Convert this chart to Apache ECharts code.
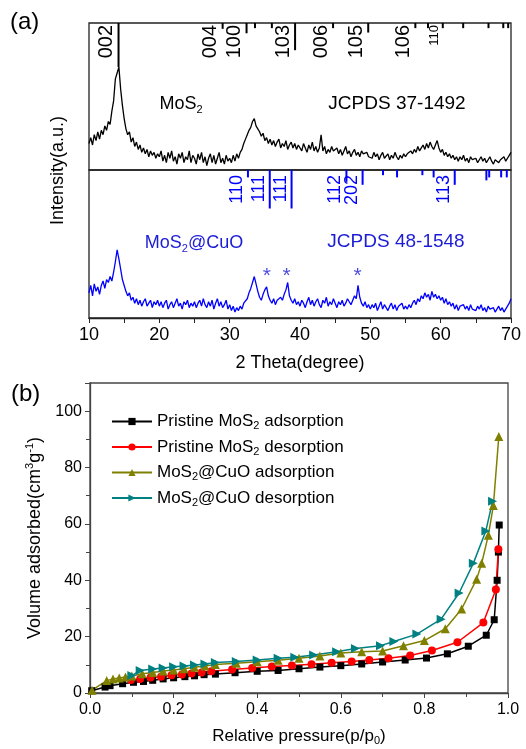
<!DOCTYPE html>
<html><head><meta charset="utf-8">
<script src="https://cdn.jsdelivr.net/npm/echarts@6/dist/echarts.min.js"></script>
<style>html,body{margin:0;padding:0;background:#fff}#c{width:526px;height:749px}</style>
</head><body><div id="c"></div>
<script>
// ---------------- DATA ----------------
// Panel (a): XRD, 2theta sampled from 10 to 70 deg every 0.25 deg
const twoThetaStart = 10;
const twoThetaStep = 0.25;
const mosIntensity = [
 18,22,17,24,20,26,21,27,24,30,27,33,31,40,47,62,66,70,55,44,
 35,28,24,26,19,22,16,19,14,17,12,15,11,14,9,13,10,12,8,11,
 9,13,6,10,5,12,8,13,6,9,4,11,8,12,5,9,7,13,5,10,
 8,4,11,7,12,5,9,3,8,11,5,10,4,8,12,5,8,4,10,6,
 8,5,10,6,11,8,12,14,18,21,24,27,29,33,35,30,28,26,23,25,
 20,22,18,21,17,20,16,19,21,15,18,16,20,14,17,19,15,18,14,17,
 16,13,18,15,12,17,14,19,13,16,12,15,24,13,16,11,14,12,16,13,
 12,15,11,14,10,13,16,11,13,9,12,14,10,12,9,13,11,10,12,9,
 10,8,12,9,11,7,10,12,8,9,11,7,10,8,12,9,7,10,8,11,
 9,11,10,13,11,14,12,16,13,15,17,14,18,15,19,16,14,17,20,15,
 12,14,10,12,9,11,8,10,7,9,6,9,7,10,6,8,5,9,7,6,
 8,5,7,9,6,8,5,7,9,6,4,7,8,5,7,6,9,6,8,10,
 12
];
const cuoIntensity = [
 17,22,15,23,18,21,16,22,25,20,26,24,28,25,31,38,46,40,33,26,
 22,18,15,17,12,14,10,13,9,12,8,11,13,8,10,12,7,11,9,12,
 8,11,7,10,12,6,9,11,7,10,13,8,10,6,11,9,12,7,10,8,
 11,7,10,12,8,13,9,7,11,8,12,6,10,13,8,11,7,9,12,6,
 9,5,8,4,7,5,8,6,10,9,13,17,20,24,28,23,18,14,12,16,
 19,21,15,12,10,13,9,12,11,14,12,16,19,24,15,12,10,13,9,11,
 8,12,10,7,11,14,9,12,8,11,13,9,7,12,10,14,8,11,9,13,
 10,7,11,9,12,8,10,13,11,9,12,15,13,22,14,10,8,11,7,9,
 6,9,7,10,5,8,11,6,9,7,5,8,10,6,9,5,8,7,10,6,
 8,6,9,7,10,12,9,13,11,15,13,17,14,16,12,18,14,16,13,15,
 12,14,10,13,9,11,8,10,6,9,5,8,7,9,6,8,5,9,6,7,
 5,8,6,9,5,7,4,8,6,5,7,4,6,8,5,7,4,6,8,10,
 13
];
// Reference patterns (position in 2theta, relative line length, hkl label)
const mosRefPos = [14.2, 29.0, 32.4, 33.6, 36.0, 39.3, 44.7, 49.7, 56.4, 58.2, 60.3, 63.2, 66.8, 68.9, 69.6];
const mosRefLen = [30, 4, 7, 3.5, 3.5, 18.5, 3.5, 6.5, 3.5, 3.5, 3.5, 3.5, 3.5, 3.5, 3.5];
const mosRefLbl = ['002', '004', '100', '', '', '103', '006', '105', '106', '', '110', '', '', '', ''];
const cuoRefPos = [32.6, 35.7, 38.8, 46.6, 48.9, 51.8, 53.8, 57.4, 59.0, 62.0, 66.5, 66.9, 68.6, 69.4];
const cuoRefLen = [5, 26, 26, 8, 10, 3.5, 5, 3.5, 5, 10, 7, 5, 5, 5];
const cuoRefLbl = ['110', '111', '111', '112', '202', '', '', '', '', '113', '', '', '', ''];
// CuO peaks marked with asterisks
const cuoStarPos = [35.3, 38.1, 48.2];
const cuoStarVal = [28, 28, 28];
const xrdTicks = [10, 20, 30, 40, 50, 60, 70];

// Panel (b): N2 isotherms
const pmAdsP = [0.004,0.036,0.048,0.078,0.104,0.128,0.15,0.175,0.2,0.227,0.25,0.273,0.3,0.347,0.4,0.45,0.5,0.55,0.6,0.65,0.7,0.754,0.805,0.855,0.905,0.948,0.967,0.974,0.977,0.979];
const pmAdsV = [0.8,2.1,2.6,3.3,3.8,4.1,4.5,5.0,5.4,5.8,6.1,6.5,6.7,7.2,7.7,8.0,8.6,9.2,9.7,10.3,11.0,11.7,12.4,13.9,16.6,20.5,26.0,40.0,50.0,59.6];
const pmDesP = [0.098,0.12,0.145,0.17,0.195,0.22,0.243,0.267,0.29,0.34,0.388,0.435,0.483,0.53,0.578,0.626,0.668,0.714,0.766,0.818,0.879,0.941,0.971,0.977];
const pmDesV = [4.6,5.0,5.5,5.8,6.3,6.6,6.9,7.3,7.7,8.3,8.9,9.4,9.8,10.2,10.7,11.2,11.7,12.3,13.3,15.1,18.0,25.0,36.7,51.0];
const mcAdsP = [0.005,0.04,0.055,0.07,0.085,0.1,0.125,0.15,0.175,0.2,0.225,0.25,0.275,0.3,0.35,0.4,0.45,0.5,0.55,0.6,0.65,0.7,0.75,0.8,0.85,0.889,0.925,0.937,0.953,0.965,0.978];
const mcAdsV = [1.0,4.4,5.0,5.3,5.7,6.0,6.8,7.3,7.8,8.2,8.6,9.1,9.6,10.1,10.6,11.1,11.6,12.3,13.1,14.2,14.6,14.9,16.8,18.6,22.8,29.8,40.4,46.0,56.0,66.5,91.0];
const mcDesP = [0.1,0.12,0.15,0.175,0.2,0.225,0.25,0.275,0.3,0.35,0.4,0.45,0.49,0.535,0.59,0.635,0.695,0.727,0.782,0.84,0.883,0.917,0.947,0.963];
const mcDesV = [6.2,8.0,8.5,8.9,9.3,9.6,9.9,10.3,10.8,11.2,11.7,12.3,12.7,13.5,14.6,15.8,16.8,18.3,20.9,26.2,35.5,46.0,57.5,68.0];

const seriesNames = ['Pristine MoS2 adsorption', 'Pristine MoS2 desorption', 'MoS2@CuO adsorption', 'MoS2@CuO desorption'];

// ---------------- CHART ----------------
const FONT = 'Liberation Sans, Arial, Helvetica, sans-serif';
const BLUE = '#0000ff';
const BLUE_TXT = '#1c1cd6';
const chart = echarts.init(document.getElementById('c'), null, {renderer: 'canvas'});

function xrdPairs(arr) { return arr.map((v, i) => [twoThetaStart + i * twoThetaStep, v]); }
function zip(a, b) { return a.map((v, i) => [v, b[i]]); }

function refSeries(gi, pos, len, lbl, color, fs, smallIdx, topGap) {
  return {
    type: 'custom', xAxisIndex: gi, yAxisIndex: gi, silent: true, z: 5,
    data: pos.map((p, i) => [p, len[i]]),
    renderItem: function (params, api) {
      const top = api.coord([api.value(0), 100]);
      const bot = api.coord([api.value(0), 100 - api.value(1)]);
      const kids = [{type: 'line', shape: {x1: top[0], y1: top[1], x2: bot[0], y2: bot[1]},
        style: {stroke: color, lineWidth: 2}}];
      const t = lbl[params.dataIndex];
      if (t) {
        kids.push({type: 'text', x: top[0] - 2, y: top[1] + topGap, rotation: Math.PI / 2,
          style: {text: t, fill: color, fontSize: params.dataIndex === smallIdx ? 13 : fs,
            fontFamily: FONT, align: 'right', verticalAlign: 'bottom'}});
      }
      return {type: 'group', children: kids};
    }
  };
}

const subRich = {
  n: {fontSize: 17, fontFamily: FONT, color: '#000', lineHeight: 20},
  s: {fontSize: 11, fontFamily: FONT, color: '#000', lineHeight: 10, verticalAlign: 'bottom'}
};
const legendFmt = {
  'Pristine MoS2 adsorption': '{n|Pristine MoS}{s|2}{n| adsorption}',
  'Pristine MoS2 desorption': '{n|Pristine MoS}{s|2}{n| desorption}',
  'MoS2@CuO adsorption': '{n|MoS}{s|2}{n|@CuO adsorption}',
  'MoS2@CuO desorption': '{n|MoS}{s|2}{n|@CuO desorption}'
};
function gRich(col) {
  return {n: {fontSize: 18, fontFamily: FONT, fill: col, lineHeight: 22},
          s: {fontSize: 11, fontFamily: FONT, fill: col, lineHeight: 10, verticalAlign: 'bottom'}};
}

const option = {
  animation: false,
  backgroundColor: '#fff',
  textStyle: {fontFamily: FONT},
  grid: [
    {left: 89, right: 15, top: 23, height: 147, show: true, borderColor: '#222', borderWidth: 1.3, backgroundColor: 'transparent'},
    {left: 89, right: 15, top: 170, height: 148, show: true, borderColor: '#222', borderWidth: 1.3, backgroundColor: 'transparent'},
    {left: 90, right: 18, top: 383, bottom: 56, show: true, borderColor: '#444', borderWidth: 1.3, backgroundColor: 'transparent'},
    {left: 89, right: 15, top: 23, bottom: 431}
  ],
  xAxis: [
    {gridIndex: 0, type: 'value', min: 10, max: 70, show: false},
    {gridIndex: 1, type: 'value', min: 10, max: 70, interval: 10,
      axisLine: {lineStyle: {color: '#222', width: 1.3}},
      axisTick: {inside: false, length: 5, lineStyle: {color: '#222'}},
      minorTick: {show: true, splitNumber: 2, length: 5, lineStyle: {color: '#222'}},
      splitLine: {show: false},
      axisLabel: {fontSize: 18, color: '#000', margin: 8, formatter: v => xrdTicks.includes(v) ? String(v) : ''},
      name: '2 Theta(degree)', nameLocation: 'middle', nameGap: 36,
      nameTextStyle: {fontSize: 18, color: '#000'}},
    {gridIndex: 2, type: 'value', min: 0, max: 1.0, interval: 0.2,
      axisLine: {lineStyle: {color: '#444', width: 1.3}},
      axisTick: {inside: false, length: 5, lineStyle: {color: '#444'}},
      minorTick: {show: true, splitNumber: 2, length: 4, lineStyle: {color: '#444'}},
      splitLine: {show: false},
      axisLabel: {fontSize: 16, color: '#000', margin: 9, formatter: v => v.toFixed(1)},
      name: '{n|Relative pressure(p/p}{s|0}{n|)}', nameLocation: 'middle', nameGap: 33,
      nameTextStyle: {rich: subRich}},
    {gridIndex: 3, type: 'value', min: 0, max: 1, show: false}
  ],
  yAxis: [
    {gridIndex: 0, type: 'value', min: 0, max: 100, show: false},
    {gridIndex: 1, type: 'value', min: 0, max: 100, show: false},
    {gridIndex: 2, type: 'value', min: 0, max: 110, interval: 20,
      axisLine: {show: true, lineStyle: {color: '#444', width: 1.3}},
      axisTick: {show: true, inside: false, length: 5, lineStyle: {color: '#444'}},
      minorTick: {show: true, splitNumber: 2, length: 4, lineStyle: {color: '#444'}},
      splitLine: {show: false},
      axisLabel: {fontSize: 16, color: '#000', margin: 8, showMaxLabel: false},
      name: '{n|Volume adsorbed(cm}{p|3}{n|g}{p|-1}{n|)}', nameLocation: 'middle', nameGap: 36,
      nameTextStyle: {rich: {
        n: {fontSize: 18, fontFamily: FONT, color: '#000', lineHeight: 22},
        p: {fontSize: 11, fontFamily: FONT, color: '#000', lineHeight: 12, verticalAlign: 'top'}
      }}},
    {gridIndex: 3, type: 'value', min: 0, max: 1,
      axisLine: {show: false}, axisTick: {show: false}, axisLabel: {show: false}, splitLine: {show: false},
      name: 'Intensity(a.u.)', nameLocation: 'middle', nameGap: 22,
      nameTextStyle: {fontSize: 18, color: '#000'}}
  ],
  legend: {
    orient: 'vertical', left: 106, top: 408, itemGap: 7, itemWidth: 40, itemHeight: 9,
    data: seriesNames,
    formatter: name => legendFmt[name],
    textStyle: {rich: subRich}
  },
  graphic: [
    {type: 'text', left: 10, top: 10, style: {text: '(a)', fontSize: 24, fontFamily: FONT, fill: '#000'}},
    {type: 'text', left: 11, top: 382, style: {text: '(b)', fontSize: 24, fontFamily: FONT, fill: '#000'}},
    {type: 'text', x: 181, y: 104, style: {text: '{n|MoS}{s|2}', align: 'center', verticalAlign: 'middle', rich: gRich('#000')}},
    {type: 'text', x: 397, y: 104, style: {text: 'JCPDS 37-1492', align: 'center', verticalAlign: 'middle',
      fontSize: 19, fontFamily: FONT, fill: '#000'}},
    {type: 'text', x: 194, y: 243, style: {text: '{n|MoS}{s|2}{n|@CuO}', align: 'center', verticalAlign: 'middle', rich: gRich(BLUE_TXT)}},
    {type: 'text', x: 396, y: 242, style: {text: 'JCPDS 48-1548', align: 'center', verticalAlign: 'middle',
      fontSize: 19, fontFamily: FONT, fill: BLUE_TXT}}
  ],
  series: [
    {type: 'line', xAxisIndex: 0, yAxisIndex: 0, data: xrdPairs(mosIntensity), showSymbol: false, silent: true,
      lineStyle: {color: '#000', width: 1.3}},
    {type: 'line', xAxisIndex: 1, yAxisIndex: 1, data: xrdPairs(cuoIntensity), showSymbol: false, silent: true,
      lineStyle: {color: BLUE, width: 1.3}},
    refSeries(0, mosRefPos, mosRefLen, mosRefLbl, '#000', 20, 10, 2),
    refSeries(1, cuoRefPos, cuoRefLen, cuoRefLbl, BLUE, 18, -1, 5),
    {type: 'scatter', xAxisIndex: 1, yAxisIndex: 1, data: zip(cuoStarPos, cuoStarVal), symbolSize: 0, silent: true,
      label: {show: true, position: 'inside', formatter: '*', fontSize: 21, color: BLUE_TXT, fontFamily: FONT}},
    {name: seriesNames[0], type: 'line', xAxisIndex: 2, yAxisIndex: 2, data: zip(pmAdsP, pmAdsV),
      symbol: 'rect', symbolSize: 7, showAllSymbol: true, lineStyle: {color: '#000', width: 1.5}, itemStyle: {color: '#000'}},
    {name: seriesNames[1], type: 'line', xAxisIndex: 2, yAxisIndex: 2, data: zip(pmDesP, pmDesV),
      symbol: 'circle', symbolSize: 8, showAllSymbol: true, lineStyle: {color: '#ff0000', width: 1.5}, itemStyle: {color: '#ff0000'}},
    {name: seriesNames[2], type: 'line', xAxisIndex: 2, yAxisIndex: 2, data: zip(mcAdsP, mcAdsV),
      symbol: 'triangle', symbolSize: 9, showAllSymbol: true, lineStyle: {color: '#808000', width: 1.5}, itemStyle: {color: '#808000'}},
    {name: seriesNames[3], type: 'line', xAxisIndex: 2, yAxisIndex: 2, data: zip(mcDesP, mcDesV),
      symbol: 'triangle', symbolRotate: -90, symbolSize: 9, showAllSymbol: true, lineStyle: {color: '#008080', width: 1.5}, itemStyle: {color: '#008080'}}
  ]
};
chart.setOption(option);
</script>
</body></html>
